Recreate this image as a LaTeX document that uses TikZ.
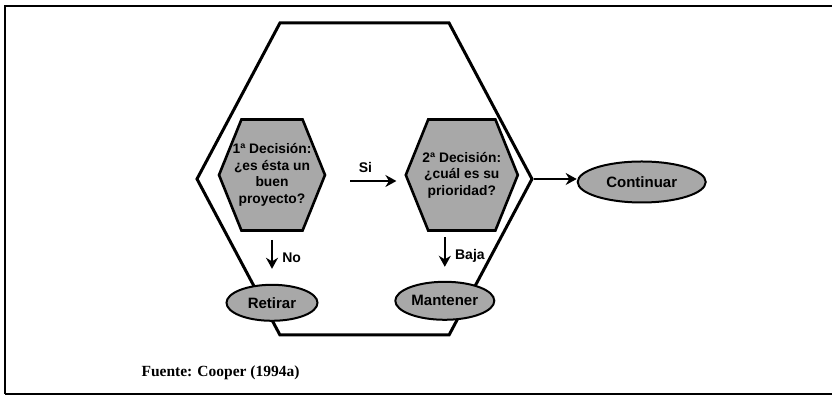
\documentclass[tikz,border=0pt]{standalone}
\usepackage{fontspec}
\setmainfont{Liberation Serif}
\setsansfont{Liberation Sans}
\usepackage{tikz}
\usetikzlibrary{arrows.meta,positioning,shapes.geometric,shapes.symbols}
\definecolor{trama}{gray}{0.66}
\tikzset{
  hexa/.style={draw,signal,signal to=east and west,signal pointer angle=#1,inner sep=0pt},
  hexa/.default=136,
  etapa/.style={hexa=124,line width=3pt,minimum width=335pt,minimum height=312pt},
  deci/.style={hexa,fill=trama,line width=2.6pt,minimum height=111pt,inner xsep=-9pt,align=center,
               font=\sffamily\bfseries\fontsize{13.8}{16.5}\selectfont},
  sal/.style={draw,ellipse,fill=trama,line width=2pt,inner sep=0pt,
              font=\sffamily\bfseries\fontsize{15}{17}\selectfont},
  flecha/.style={-{Stealth[length=11pt,width=12pt]},line width=2.6pt},
  lbl/.style={font=\sffamily\bfseries\fontsize{14}{16}\selectfont,inner sep=1pt},
}
\begin{document}
\begin{tikzpicture}[x=1pt,y=1pt,node distance=40pt]
  \useasboundingbox (0,0) rectangle (832,395);
  % marco
  \draw[line width=2.8pt] (832,389) -- (5,389) -- (5,1);
  \draw[line width=1.6pt] (5,1) -- (832,1);
  \node[etapa] (fase) at (364.5,216) {};
  \node[deci,minimum width=106pt] (d1) at (272,220) {1ª Decisión:\\ ¿es ésta un\\ buen\\ proyecto?};
  \node[deci,minimum width=112pt,right=78pt of d1] (d2) {2ª Decisión:\\ ¿cuál es su\\ prioridad?};
  \node[sal,minimum width=91pt,minimum height=36pt,below=52pt of d1] (ret) {Retirar};
  \node[sal,minimum width=99pt,minimum height=38pt,below=49pt of d2,xshift=-17pt] (man) {Mantener};
  \node[sal,minimum width=128pt,minimum height=41pt,right=43pt of fase,yshift=-3pt] (cont) {Continuar};
  \draw[flecha,shorten <=24pt,shorten >=8pt] ([yshift=-6pt]d1.east) -- node[lbl,above=6pt]{Si} ([yshift=-6pt]d2.west);
  \draw[flecha,shorten <=8pt,shorten >=15pt] (d1.south) -- node[lbl,right=8pt]{No} (ret.north);
  \draw[flecha,shorten <=5pt,shorten >=14pt] (man.north |- d2.south) -- node[lbl,right=8pt]{Baja} (man.north);
  \draw[flecha] (fase.east) -- (fase.east -| cont.west);
  \node[anchor=west,font=\rmfamily\bfseries\fontsize{15.5}{18}\selectfont] (fuente) at (138,22) {Fuente: Cooper (1994a)};
\end{tikzpicture}
\end{document}
